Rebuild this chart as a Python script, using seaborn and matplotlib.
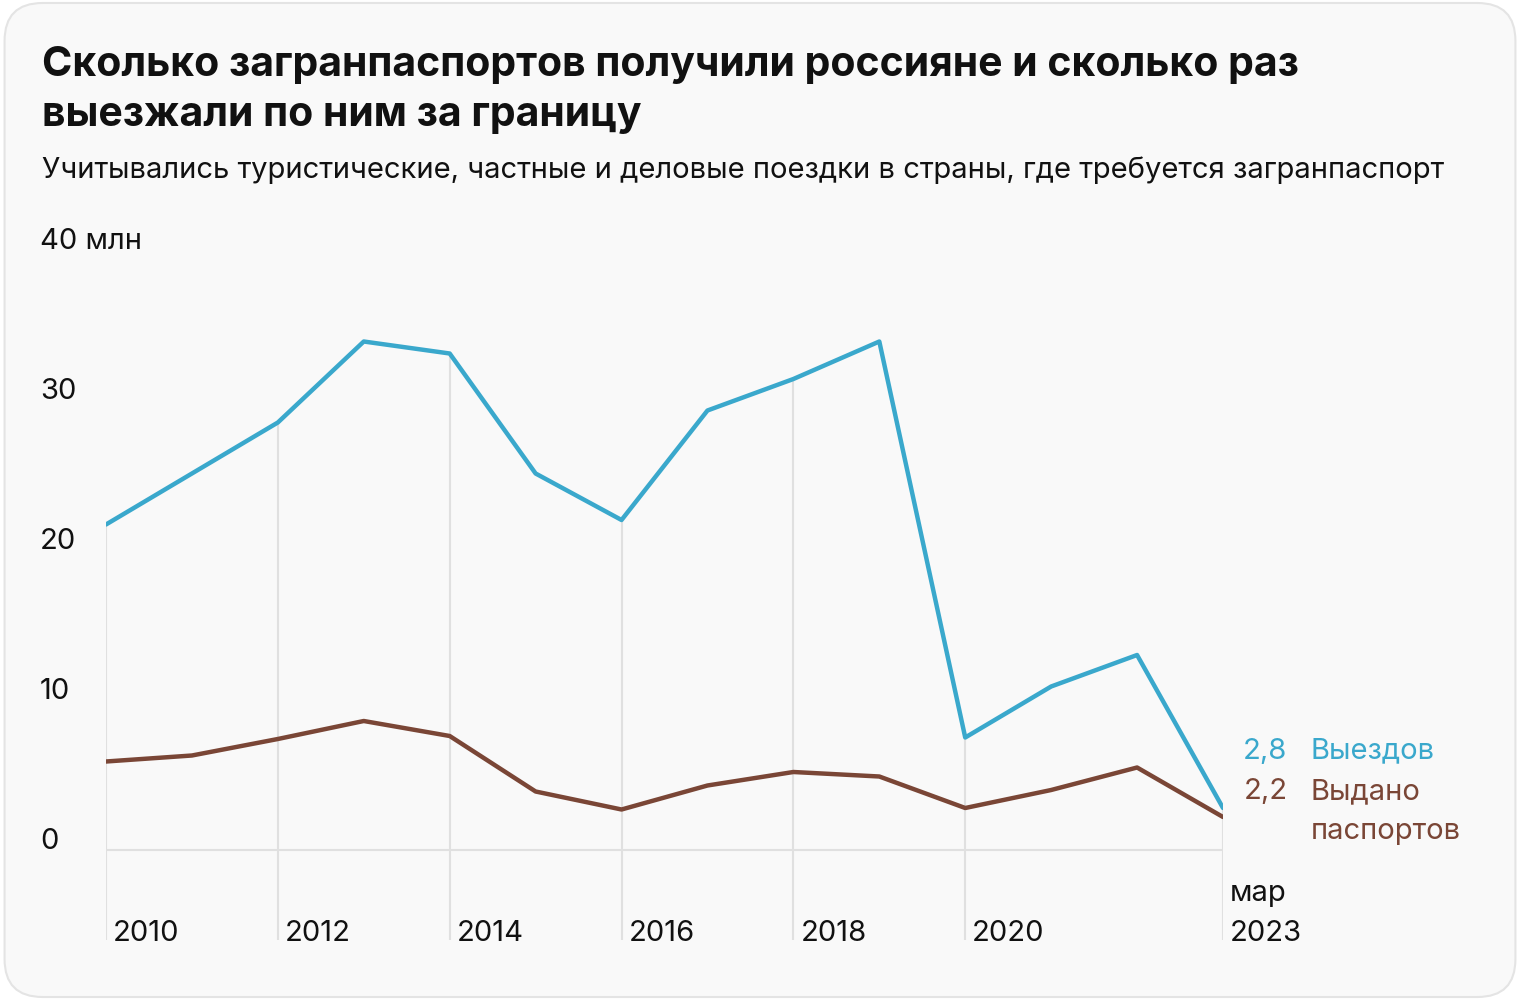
import numpy as np
import pandas as pd
import seaborn as sns
import matplotlib.pyplot as plt
from matplotlib.patches import FancyBboxPatch
from matplotlib.transforms import blended_transform_factory

# data (млн)
years = [2010, 2011, 2012, 2013, 2014, 2015, 2016, 2017, 2018, 2019, 2020, 2021, 2022, 2023]
trips = [21.7, 25.1, 28.5, 33.9, 33.1, 25.1, 22.0, 29.3, 31.4, 33.9, 7.5, 10.9, 13.0, 2.8]
passports = [5.9, 6.3, 7.4, 8.6, 7.6, 3.9, 2.7, 4.3, 5.2, 4.9, 2.8, 4.0, 5.5, 2.2]
grid_years = [2010, 2012, 2014, 2016, 2018, 2020, 2023]
x_labels = ["2010", "2012", "2014", "2016", "2018", "2020", "мар\n2023"]
y_ticks = [0, 10, 20, 30, 40]
y_labels = ["0", "10", "20", "30", "40 млн"]

BLUE = "#3aa8cc"
BROWN = "#7a4636"
GRID = "#e0e0e0"

sns.set_theme(style="white")
plt.rcParams['font.family'] = ['Inter', 'DejaVu Sans']

df = pd.DataFrame({"year": years, "trips": trips, "passports": passports})

fig = plt.figure(figsize=(15.2, 10), dpi=100, facecolor="white")
card = FancyBboxPatch((0.003, 0.003), 0.994, 0.994, boxstyle="round,pad=0,rounding_size=0.025",
                      transform=fig.transFigure, facecolor="#f9f9f9", edgecolor="#e4e4e4",
                      linewidth=1.5, mutation_aspect=1.52, zorder=-5)
fig.patches.append(card)

ax = fig.add_axes([106 / 1520, 0.06, (1223 - 106) / 1520, 0.69])
ax.set_zorder(2)
ax.set_facecolor("none")
ax.set_xlim(2010, 2023)
ax.set_ylim(-6, 40)
for s in ax.spines.values():
    s.set_visible(False)

# vertical grid lines from bottom up to the top series
top_vals = df.set_index("year").loc[grid_years, "trips"]
ax.vlines(grid_years, -6, top_vals.values, color=GRID, lw=1.5, zorder=1)
ax.hlines(0, 2010, 2023, color=GRID, lw=1.5, zorder=1)

sns.lineplot(data=df, x="year", y="trips", color=BLUE, lw=3.2, ax=ax, zorder=3)
sns.lineplot(data=df, x="year", y="passports", color=BROWN, lw=3.2, ax=ax, zorder=3)
ax.set_xlabel("")
ax.set_ylabel("")
ax.set_xticks([])
ax.set_yticks([])

fs = 21
tr = blended_transform_factory(fig.transFigure, ax.transData)
for v, lab in zip(y_ticks, y_labels):
    ax.text(40 / 1520, v + 0.55, lab, transform=tr, ha="left", va="center", fontsize=fs, color="#111111")

for yr, lab in zip(grid_years, x_labels):
    ax.text(yr + 0.08, -6.45, lab, ha="left", va="bottom", fontsize=fs, color="#111111",
            linespacing=1.6, clip_on=False)

# end labels
ax.text(2023.75, trips[-1] + 3.8, f"{trips[-1]:.1f}".replace(".", ","), ha="right", va="center",
        fontsize=fs, color=BLUE, clip_on=False)
ax.text(2024.02, trips[-1] + 3.8, "Выездов", ha="left", va="center", fontsize=fs, color=BLUE, clip_on=False)
ax.text(2023.75, passports[-1] + 1.7, f"{passports[-1]:.1f}".replace(".", ","), ha="right", va="center",
        fontsize=fs, color=BROWN, clip_on=False)
ax.text(2024.02, passports[-1] + 1.7, "Выдано", ha="left", va="center", fontsize=fs, color=BROWN, clip_on=False)
ax.text(2024.02, passports[-1] - 0.95, "паспортов", ha="left", va="center", fontsize=fs, color=BROWN, clip_on=False)

fig.text(42 / 1520, 1 - 65 / 1000, "Сколько загранпаспортов получили россияне и сколько раз",
         fontsize=29.5, fontweight="bold", color="#111111", va="center", ha="left")
fig.text(42 / 1520, 1 - 115 / 1000, "выезжали по ним за границу",
         fontsize=29.5, fontweight="bold", color="#111111", va="center", ha="left")
fig.text(42 / 1520, 1 - 170 / 1000,
         "Учитывались туристические, частные и деловые поездки в страны, где требуется загранпаспорт",
         fontsize=21, color="#111111", va="center", ha="left")

fig.savefig("out.png", dpi=100, facecolor="white")
